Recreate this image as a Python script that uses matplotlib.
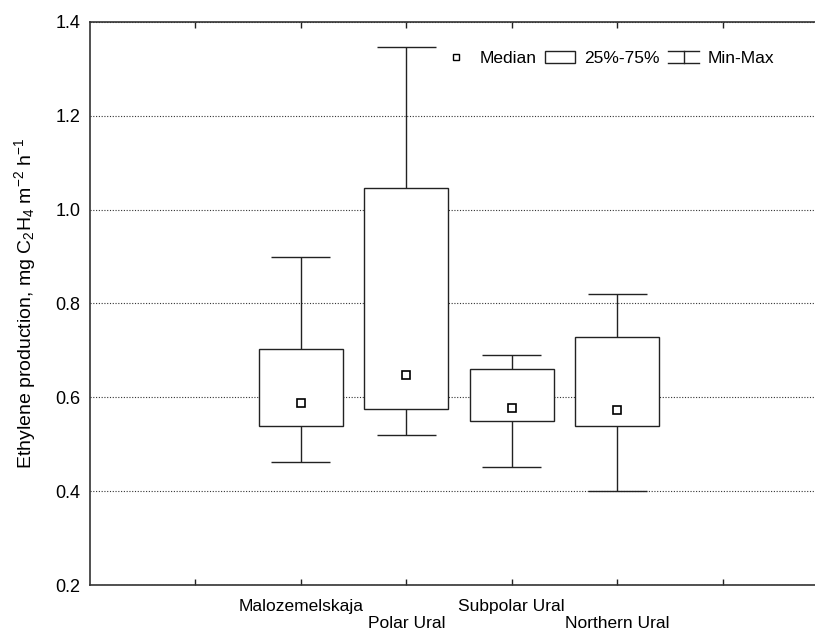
import matplotlib.pyplot as plt
from matplotlib.lines import Line2D
from matplotlib.patches import Patch
from matplotlib.legend_handler import HandlerBase

plt.rcParams['font.family'] = 'Liberation Sans'
plt.rcParams['mathtext.fontset'] = 'custom'
plt.rcParams['mathtext.rm'] = 'Liberation Sans'
plt.rcParams['mathtext.it'] = 'Liberation Sans:italic'

# data
regions = ['Malozemelskaja', 'Polar Ural', 'Subpolar Ural', 'Northern Ural']
positions = [1, 2, 3, 4]
medians = [0.587, 0.648, 0.577, 0.573]
q25 = [0.539, 0.575, 0.549, 0.539]
q75 = [0.704, 1.047, 0.661, 0.729]
mins = [0.462, 0.519, 0.452, 0.400]
maxs = [0.899, 1.346, 0.691, 0.820]

box_w = 0.8
cap_w = 0.56
edge = '#222222'


class HandlerMinMax(HandlerBase):
    def create_artists(self, legend, orig_handle, xd, yd, width, height, fontsize, trans):
        cx = xd + width / 2
        top = yd + height
        bot = yd
        arts = [
            Line2D([xd, xd + width], [top, top], color=edge, lw=1),
            Line2D([xd, xd + width], [bot, bot], color=edge, lw=1),
            Line2D([cx, cx], [bot, top], color=edge, lw=1),
        ]
        for a in arts:
            a.set_transform(trans)
        return arts


fig = plt.figure(figsize=(8.15, 6.37), dpi=100)
ax = fig.add_axes([0.1104, 0.0816, 0.8896, 0.8839])

ax.yaxis.grid(True, linestyle=(0, (1, 1.5)), color='#333333', lw=0.8)
ax.set_axisbelow(True)

# whiskers
for p, lo, hi in zip(positions, mins, maxs):
    ax.vlines(p, lo, hi, color=edge, lw=1, zorder=2)
ax.hlines(mins, [p - cap_w / 2 for p in positions], [p + cap_w / 2 for p in positions],
          color=edge, lw=1, zorder=2)
ax.hlines(maxs, [p - cap_w / 2 for p in positions], [p + cap_w / 2 for p in positions],
          color=edge, lw=1, zorder=2)

# boxes
ax.bar(positions, [b - a for a, b in zip(q25, q75)], bottom=q25, width=box_w,
       facecolor='white', edgecolor=edge, lw=1, zorder=3)

# medians
ax.plot(positions, medians, ls='none', marker='s', ms=6, mfc='white', mec='black',
        mew=1.2, zorder=4)

ax.set_xlim(-1, 5.877)
ax.set_ylim(0.2, 1.4)
ax.set_yticks([0.2, 0.4, 0.6, 0.8, 1.0, 1.2, 1.4])
ax.set_yticklabels(['0.2', '0.4', '0.6', '0.8', '1.0', '1.2', '1.4'])

xt = [0, 1, 2, 3, 4, 5]
xl = ['', regions[0], '\n' + regions[1], regions[2], '\n' + regions[3], '']
ax.set_xticks(xt)
ax.set_xticklabels(xl)
ax.tick_params(axis='x', direction='in', top=True, length=4, width=1, color=edge,
               labelsize=12.5, pad=10)
ax.tick_params(axis='y', length=0, labelsize=13, pad=7)

for s in ['left', 'top', 'bottom']:
    ax.spines[s].set_color('#333333')
    ax.spines[s].set_linewidth(1.2)
ax.spines['right'].set_visible(False)

ax.set_ylabel('Ethylene production, mg C$_2$H$_4$ m$^{-2}$ h$^{-1}$', fontsize=14)
ax.yaxis.set_label_coords(-0.071, 0.5)

handles = [
    Line2D([], [], ls='none', marker='s', ms=5, mfc='white', mec='black', mew=1),
    Patch(facecolor='white', edgecolor=edge, lw=1),
    'minmax',
]
ax.legend(handles, ['Median', '25%-75%', 'Min-Max'], ncol=3, frameon=False,
          loc='upper right', bbox_to_anchor=(0.965, 0.977), fontsize=12.5,
          handlelength=1.75, handletextpad=0.5, columnspacing=0.5,
          handler_map={str: HandlerMinMax()})

fig.savefig('out.png', dpi=100)
